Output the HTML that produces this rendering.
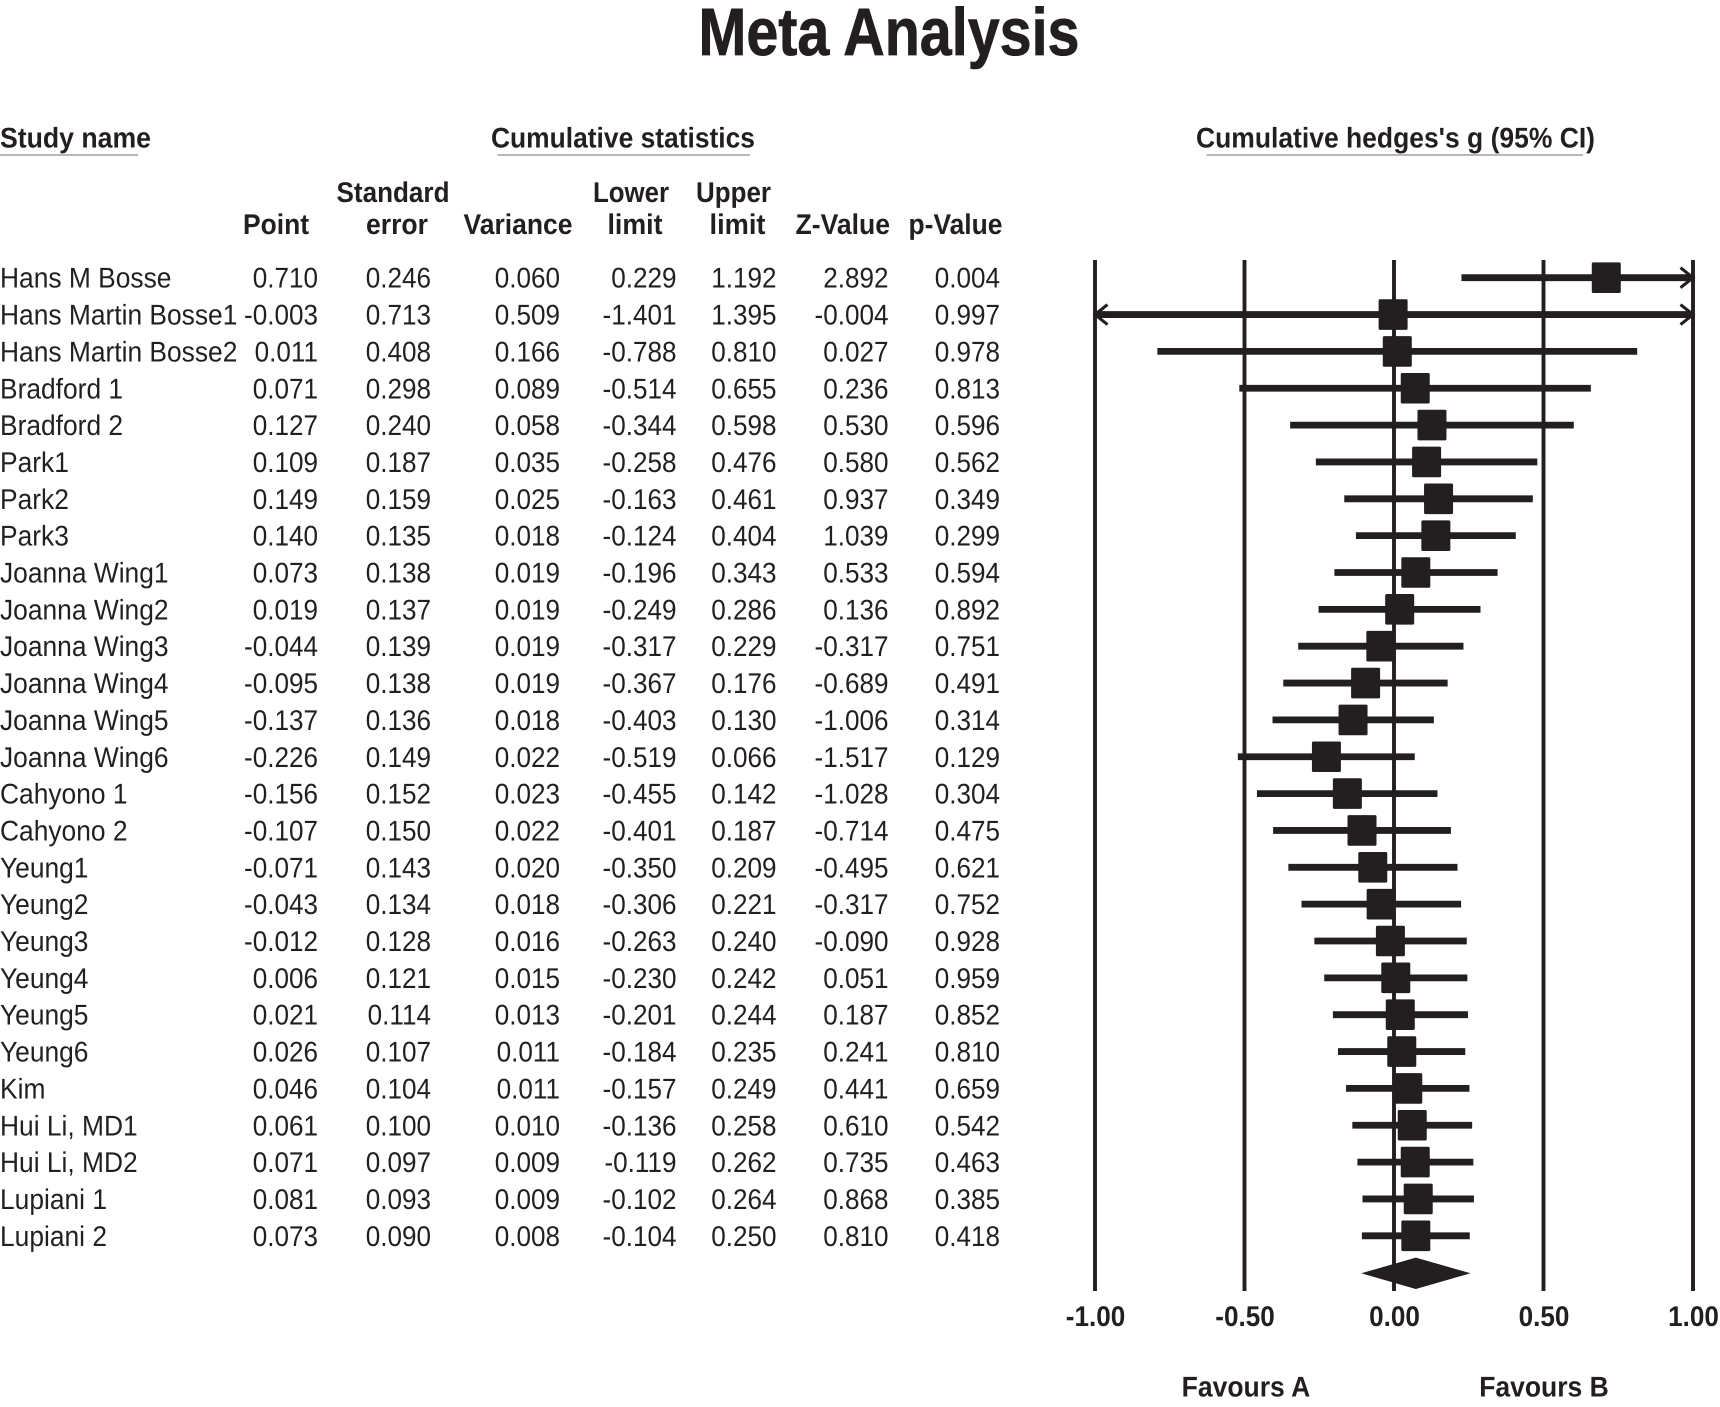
<!DOCTYPE html>
<html lang="en">
<head>
<meta charset="utf-8">
<title>Meta Analysis</title>
<style>
html,body{margin:0;padding:0;background:#fff;}
svg{display:block;}
text{font-family:"Liberation Sans",Arial,sans-serif;fill:#231f20;text-rendering:geometricPrecision;}
.b{font-weight:700;font-size:28.5px;}
.r{font-size:28.5px;}
</style>
</head>
<body>
<svg id="chart" xmlns="http://www.w3.org/2000/svg" width="1720" height="1407" viewBox="0 0 1720 1407">
<rect x="0" y="0" width="1720" height="1407" fill="#fff"/>
<text x="698.5" y="55" font-size="67" font-weight="700" stroke="#231f20" stroke-width="0.8" textLength="381" lengthAdjust="spacingAndGlyphs">Meta Analysis</text>

<text class="b" x="0" y="147.5" textLength="151" lengthAdjust="spacingAndGlyphs">Study name</text>
<rect x="0" y="154" width="138" height="2" fill="#b8b8b8"/>
<text class="b" x="491" y="147.5" textLength="264" lengthAdjust="spacingAndGlyphs">Cumulative statistics</text>
<rect x="497.5" y="154" width="252.5" height="2" fill="#b8b8b8"/>
<text class="b" x="1196" y="147.5" textLength="399" lengthAdjust="spacingAndGlyphs">Cumulative hedges's g (95% CI)</text>
<rect x="1206.5" y="154" width="376.5" height="2" fill="#b8b8b8"/>

<text class="b" x="243" y="234" textLength="66" lengthAdjust="spacingAndGlyphs">Point</text>
<text class="b" x="336.5" y="202" textLength="113" lengthAdjust="spacingAndGlyphs">Standard</text>
<text class="b" x="366" y="234" textLength="62" lengthAdjust="spacingAndGlyphs">error</text>
<text class="b" x="463.5" y="234" textLength="109" lengthAdjust="spacingAndGlyphs">Variance</text>
<text class="b" x="593" y="202" textLength="76" lengthAdjust="spacingAndGlyphs">Lower</text>
<text class="b" x="607.5" y="234" textLength="55" lengthAdjust="spacingAndGlyphs">limit</text>
<text class="b" x="696" y="202" textLength="75" lengthAdjust="spacingAndGlyphs">Upper</text>
<text class="b" x="709.5" y="234" textLength="56" lengthAdjust="spacingAndGlyphs">limit</text>
<text class="b" x="795.5" y="234" textLength="94.5" lengthAdjust="spacingAndGlyphs">Z-Value</text>
<text class="b" x="908.5" y="234" textLength="94" lengthAdjust="spacingAndGlyphs">p-Value</text>

<g id="table"></g>
<g id="grid"></g>
<g id="marks"></g>
<g id="ticks"></g>

<text class="b" text-anchor="middle" transform="translate(1246 1396.5) scale(.93 1)">Favours A</text>
<text class="b" text-anchor="middle" transform="translate(1544 1396.5) scale(.93 1)">Favours B</text>
</svg>
<script>
const studies = ["Hans M Bosse","Hans Martin Bosse1","Hans Martin Bosse2","Bradford 1","Bradford 2","Park1","Park2","Park3","Joanna Wing1","Joanna Wing2","Joanna Wing3","Joanna Wing4","Joanna Wing5","Joanna Wing6","Cahyono 1","Cahyono 2","Yeung1","Yeung2","Yeung3","Yeung4","Yeung5","Yeung6","Kim","Hui Li, MD1","Hui Li, MD2","Lupiani 1","Lupiani 2"];
const point = [0.710,-0.003,0.011,0.071,0.127,0.109,0.149,0.140,0.073,0.019,-0.044,-0.095,-0.137,-0.226,-0.156,-0.107,-0.071,-0.043,-0.012,0.006,0.021,0.026,0.046,0.061,0.071,0.081,0.073];
const standardError = [0.246,0.713,0.408,0.298,0.240,0.187,0.159,0.135,0.138,0.137,0.139,0.138,0.136,0.149,0.152,0.150,0.143,0.134,0.128,0.121,0.114,0.107,0.104,0.100,0.097,0.093,0.090];
const variance = [0.060,0.509,0.166,0.089,0.058,0.035,0.025,0.018,0.019,0.019,0.019,0.019,0.018,0.022,0.023,0.022,0.020,0.018,0.016,0.015,0.013,0.011,0.011,0.010,0.009,0.009,0.008];
const lowerLimit = [0.229,-1.401,-0.788,-0.514,-0.344,-0.258,-0.163,-0.124,-0.196,-0.249,-0.317,-0.367,-0.403,-0.519,-0.455,-0.401,-0.350,-0.306,-0.263,-0.230,-0.201,-0.184,-0.157,-0.136,-0.119,-0.102,-0.104];
const upperLimit = [1.192,1.395,0.810,0.655,0.598,0.476,0.461,0.404,0.343,0.286,0.229,0.176,0.130,0.066,0.142,0.187,0.209,0.221,0.240,0.242,0.244,0.235,0.249,0.258,0.262,0.264,0.250];
const zValue = [2.892,-0.004,0.027,0.236,0.530,0.580,0.937,1.039,0.533,0.136,-0.317,-0.689,-1.006,-1.517,-1.028,-0.714,-0.495,-0.317,-0.090,0.051,0.187,0.241,0.441,0.610,0.735,0.868,0.810];
const pValue = [0.004,0.997,0.978,0.813,0.596,0.562,0.349,0.299,0.594,0.892,0.751,0.491,0.314,0.129,0.304,0.475,0.621,0.752,0.928,0.959,0.852,0.810,0.659,0.542,0.463,0.385,0.418];
const tickValues = [-1,-0.5,0,0.5,1];
const summaryPoint = 0.073;
const summaryLower = -0.104;
const summaryUpper = 0.250;

const NS = 'http://www.w3.org/2000/svg';
const INK = '#231f20';
const xScale = v => 1394 + v * 299;
const clampX = v => Math.max(-1, Math.min(1, v));
const rowY = i => 277.7 + i * 36.85;
const table = document.getElementById('table');
const grid = document.getElementById('grid');
const marks = document.getElementById('marks');
const ticks = document.getElementById('ticks');

function make(tag, parent, props) {
  const el = document.createElementNS(NS, tag);
  for (const k in props) el.setAttribute(k, props[k]);
  parent.appendChild(el);
  return el;
}
const squeeze = (x, y, s) => 'translate(' + x + ' ' + y + ') scale(' + s + ' 1)';

const columns = [
  { key: 'point', values: point, right: 318 },
  { key: 'standard-error', values: standardError, right: 431 },
  { key: 'variance', values: variance, right: 560 },
  { key: 'lower-limit', values: lowerLimit, right: 676.5 },
  { key: 'upper-limit', values: upperLimit, right: 776.5 },
  { key: 'z-value', values: zValue, right: 888.5 },
  { key: 'p-value', values: pValue, right: 1000 }
];

studies.forEach((name, i) => {
  const base = rowY(i) + 10;
  const label = make('text', table, { class: 'r', transform: squeeze(0, base, 0.925) });
  
  
  label.textContent = name;
  columns.forEach(col => {
    const cell = make('text', table, { class: 'r', transform: squeeze(col.right, base, 0.915), 'text-anchor': 'end' });
    
    
    cell.textContent = col.values[i].toFixed(3);
  });
});

tickValues.forEach(v => {
  const line = make('line', grid, { x1: xScale(v), x2: xScale(v), y1: 260, y2: 1291, stroke: INK, 'stroke-width': 3.9 });
  
  
  const t = make('text', ticks, { class: 'b', transform: squeeze(xScale(v) + 0.5, 1326, 0.915), 'text-anchor': 'middle' });
  
  
  t.textContent = v.toFixed(2);
});

studies.forEach((name, i) => {
  const y = rowY(i);
  const clippedLow = lowerLimit[i] < -1;
  const clippedHigh = upperLimit[i] > 1;
  const x1 = xScale(clampX(lowerLimit[i]));
  const x2 = xScale(clampX(upperLimit[i]));
  const ci = make('line', marks, { x1: clippedLow ? x1 : x1 - 1, x2: clippedHigh ? x2 : x2 + 1, y1: y, y2: y, stroke: INK, 'stroke-width': 6.8 });
  
  
  if (clippedHigh) {
    const arrowR = make('polyline', marks, { points: (x2 - 12.5) + ',' + (y - 10) + ' ' + x2 + ',' + y + ' ' + (x2 - 12.5) + ',' + (y + 10), fill: 'none', stroke: INK, 'stroke-width': 3.1 });
    
    
  }
  if (clippedLow) {
    const arrowL = make('polyline', marks, { points: (x1 + 12.5) + ',' + (y - 10) + ' ' + x1 + ',' + y + ' ' + (x1 + 12.5) + ',' + (y + 10), fill: 'none', stroke: INK, 'stroke-width': 3.1 });
    
    
  }
  const sq = make('rect', marks, { x: xScale(point[i]) - 14.5, y: y - 15.3, width: 29, height: 30.6, rx: 1.5, fill: INK });
  
  
});

const diamondY = 1273.3;
const diamond = make('polygon', marks, {
  points: xScale(summaryLower) + ',' + diamondY + ' ' + xScale(summaryPoint) + ',' + (diamondY - 15.2) + ' ' + xScale(summaryUpper) + ',' + diamondY + ' ' + xScale(summaryPoint) + ',' + (diamondY + 15.2),
  fill: INK,
  stroke: INK,
  'stroke-width': 1
});


</script>
</body>
</html>
